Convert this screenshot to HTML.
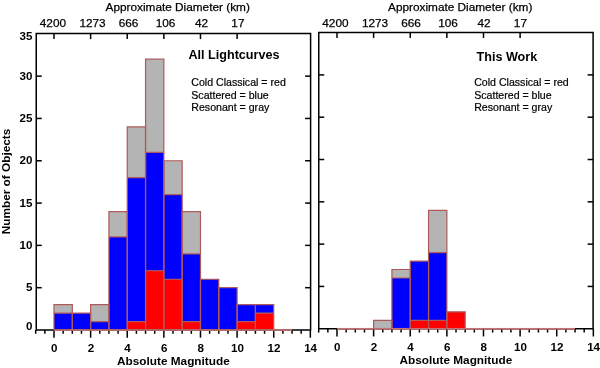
<!DOCTYPE html>
<html><head><meta charset="utf-8"><style>
html,body{margin:0;padding:0;background:#fff;}
svg{display:block;will-change:transform;}
text{font-family:"Liberation Sans",sans-serif;fill:#000;}
.tb{font-size:11.6px;font-weight:bold;}
.tn{font-size:11.8px;stroke:#000;stroke-width:0.25px;}
.ta{font-size:11.8px;font-weight:bold;}
.ti{font-size:12.6px;font-weight:bold;}
.lg{font-size:10.6px;stroke:#000;stroke-width:0.2px;}
</style></head><body>
<svg width="600" height="368" viewBox="0 0 600 368">
<rect width="600" height="368" fill="#fff"/>
<rect x="54.00" y="313.08" width="18.31" height="16.92" fill="#0000ff"/>
<rect x="54.00" y="304.61" width="18.31" height="8.46" fill="#b4b4b4"/>
<rect x="72.31" y="313.08" width="18.31" height="16.92" fill="#0000ff"/>
<rect x="90.62" y="321.54" width="18.31" height="8.46" fill="#0000ff"/>
<rect x="90.62" y="304.61" width="18.31" height="16.92" fill="#b4b4b4"/>
<rect x="108.93" y="236.92" width="18.31" height="93.08" fill="#0000ff"/>
<rect x="108.93" y="211.53" width="18.31" height="25.39" fill="#b4b4b4"/>
<rect x="127.24" y="321.54" width="18.31" height="8.46" fill="#ff0000"/>
<rect x="127.24" y="177.68" width="18.31" height="143.85" fill="#0000ff"/>
<rect x="127.24" y="126.91" width="18.31" height="50.77" fill="#b4b4b4"/>
<rect x="145.55" y="270.77" width="18.31" height="59.23" fill="#ff0000"/>
<rect x="145.55" y="152.30" width="18.31" height="118.47" fill="#0000ff"/>
<rect x="145.55" y="59.22" width="18.31" height="93.08" fill="#b4b4b4"/>
<rect x="163.86" y="279.23" width="18.31" height="50.77" fill="#ff0000"/>
<rect x="163.86" y="194.61" width="18.31" height="84.62" fill="#0000ff"/>
<rect x="163.86" y="160.76" width="18.31" height="33.85" fill="#b4b4b4"/>
<rect x="182.17" y="321.54" width="18.31" height="8.46" fill="#ff0000"/>
<rect x="182.17" y="253.84" width="18.31" height="67.70" fill="#0000ff"/>
<rect x="182.17" y="211.53" width="18.31" height="42.31" fill="#b4b4b4"/>
<rect x="200.48" y="279.23" width="18.31" height="50.77" fill="#0000ff"/>
<rect x="218.79" y="287.69" width="18.31" height="42.31" fill="#0000ff"/>
<rect x="237.10" y="321.54" width="18.31" height="8.46" fill="#ff0000"/>
<rect x="237.10" y="304.61" width="18.31" height="16.92" fill="#0000ff"/>
<rect x="255.41" y="313.08" width="18.31" height="16.92" fill="#ff0000"/>
<rect x="255.41" y="304.61" width="18.31" height="8.46" fill="#0000ff"/>
<path d="M36.25,33.6 H310.6 V330.0 H36.25 Z" fill="none" stroke="#000" stroke-width="1.5"/>
<line x1="35.69" y1="330.0" x2="35.69" y2="333.8" stroke="#000" stroke-width="1.5"/>
<line x1="44.84" y1="330.0" x2="44.84" y2="333.8" stroke="#000" stroke-width="1.5"/>
<line x1="54.00" y1="330.0" x2="54.00" y2="337.7" stroke="#000" stroke-width="1.5"/>
<line x1="63.16" y1="330.0" x2="63.16" y2="333.8" stroke="#000" stroke-width="1.5"/>
<line x1="72.31" y1="330.0" x2="72.31" y2="333.8" stroke="#000" stroke-width="1.5"/>
<line x1="81.47" y1="330.0" x2="81.47" y2="333.8" stroke="#000" stroke-width="1.5"/>
<line x1="90.62" y1="330.0" x2="90.62" y2="337.7" stroke="#000" stroke-width="1.5"/>
<line x1="99.78" y1="330.0" x2="99.78" y2="333.8" stroke="#000" stroke-width="1.5"/>
<line x1="108.93" y1="330.0" x2="108.93" y2="333.8" stroke="#000" stroke-width="1.5"/>
<line x1="118.08" y1="330.0" x2="118.08" y2="333.8" stroke="#000" stroke-width="1.5"/>
<line x1="127.24" y1="330.0" x2="127.24" y2="337.7" stroke="#000" stroke-width="1.5"/>
<line x1="136.39" y1="330.0" x2="136.39" y2="333.8" stroke="#000" stroke-width="1.5"/>
<line x1="145.55" y1="330.0" x2="145.55" y2="333.8" stroke="#000" stroke-width="1.5"/>
<line x1="154.70" y1="330.0" x2="154.70" y2="333.8" stroke="#000" stroke-width="1.5"/>
<line x1="163.86" y1="330.0" x2="163.86" y2="337.7" stroke="#000" stroke-width="1.5"/>
<line x1="173.01" y1="330.0" x2="173.01" y2="333.8" stroke="#000" stroke-width="1.5"/>
<line x1="182.17" y1="330.0" x2="182.17" y2="333.8" stroke="#000" stroke-width="1.5"/>
<line x1="191.32" y1="330.0" x2="191.32" y2="333.8" stroke="#000" stroke-width="1.5"/>
<line x1="200.48" y1="330.0" x2="200.48" y2="337.7" stroke="#000" stroke-width="1.5"/>
<line x1="209.63" y1="330.0" x2="209.63" y2="333.8" stroke="#000" stroke-width="1.5"/>
<line x1="218.79" y1="330.0" x2="218.79" y2="333.8" stroke="#000" stroke-width="1.5"/>
<line x1="227.94" y1="330.0" x2="227.94" y2="333.8" stroke="#000" stroke-width="1.5"/>
<line x1="237.10" y1="330.0" x2="237.10" y2="337.7" stroke="#000" stroke-width="1.5"/>
<line x1="246.25" y1="330.0" x2="246.25" y2="333.8" stroke="#000" stroke-width="1.5"/>
<line x1="255.41" y1="330.0" x2="255.41" y2="333.8" stroke="#000" stroke-width="1.5"/>
<line x1="264.56" y1="330.0" x2="264.56" y2="333.8" stroke="#000" stroke-width="1.5"/>
<line x1="273.72" y1="330.0" x2="273.72" y2="337.7" stroke="#000" stroke-width="1.5"/>
<line x1="282.88" y1="330.0" x2="282.88" y2="333.8" stroke="#000" stroke-width="1.5"/>
<line x1="292.03" y1="330.0" x2="292.03" y2="333.8" stroke="#000" stroke-width="1.5"/>
<line x1="301.18" y1="330.0" x2="301.18" y2="333.8" stroke="#000" stroke-width="1.5"/>
<line x1="310.34" y1="330.0" x2="310.34" y2="337.7" stroke="#000" stroke-width="1.5"/>
<line x1="54.00" y1="33.6" x2="54.00" y2="39.1" stroke="#000" stroke-width="1.5"/>
<line x1="90.62" y1="33.6" x2="90.62" y2="39.1" stroke="#000" stroke-width="1.5"/>
<line x1="127.24" y1="33.6" x2="127.24" y2="39.1" stroke="#000" stroke-width="1.5"/>
<line x1="163.86" y1="33.6" x2="163.86" y2="39.1" stroke="#000" stroke-width="1.5"/>
<line x1="200.48" y1="33.6" x2="200.48" y2="39.1" stroke="#000" stroke-width="1.5"/>
<line x1="237.10" y1="33.6" x2="237.10" y2="39.1" stroke="#000" stroke-width="1.5"/>
<line x1="36.25" y1="287.69" x2="41.75" y2="287.69" stroke="#000" stroke-width="1.5"/>
<line x1="310.6" y1="287.69" x2="305.1" y2="287.69" stroke="#000" stroke-width="1.5"/>
<line x1="36.25" y1="245.38" x2="41.75" y2="245.38" stroke="#000" stroke-width="1.5"/>
<line x1="310.6" y1="245.38" x2="305.1" y2="245.38" stroke="#000" stroke-width="1.5"/>
<line x1="36.25" y1="203.07" x2="41.75" y2="203.07" stroke="#000" stroke-width="1.5"/>
<line x1="310.6" y1="203.07" x2="305.1" y2="203.07" stroke="#000" stroke-width="1.5"/>
<line x1="36.25" y1="160.76" x2="41.75" y2="160.76" stroke="#000" stroke-width="1.5"/>
<line x1="310.6" y1="160.76" x2="305.1" y2="160.76" stroke="#000" stroke-width="1.5"/>
<line x1="36.25" y1="118.45" x2="41.75" y2="118.45" stroke="#000" stroke-width="1.5"/>
<line x1="310.6" y1="118.45" x2="305.1" y2="118.45" stroke="#000" stroke-width="1.5"/>
<line x1="36.25" y1="76.14" x2="41.75" y2="76.14" stroke="#000" stroke-width="1.5"/>
<line x1="310.6" y1="76.14" x2="305.1" y2="76.14" stroke="#000" stroke-width="1.5"/>
<path d="M54.00,330.00 V304.61 H72.31 V330.00 Z M54.00,313.08 H72.31" fill="none" stroke="#ae5a5a" stroke-width="1.2"/>
<path d="M54.00,330.00 H72.31" fill="none" stroke="#c27272" stroke-width="1.6"/>
<path d="M72.31,330.00 V313.08 H90.62 V330.00 Z" fill="none" stroke="#ae5a5a" stroke-width="1.2"/>
<path d="M72.31,330.00 H90.62" fill="none" stroke="#c27272" stroke-width="1.6"/>
<path d="M90.62,330.00 V304.61 H108.93 V330.00 Z M90.62,321.54 H108.93" fill="none" stroke="#ae5a5a" stroke-width="1.2"/>
<path d="M90.62,330.00 H108.93" fill="none" stroke="#c27272" stroke-width="1.6"/>
<path d="M108.93,330.00 V211.53 H127.24 V330.00 Z M108.93,236.92 H127.24" fill="none" stroke="#ae5a5a" stroke-width="1.2"/>
<path d="M108.93,330.00 H127.24" fill="none" stroke="#c27272" stroke-width="1.6"/>
<path d="M127.24,330.00 V126.91 H145.55 V330.00 Z M127.24,321.54 H145.55 M127.24,177.68 H145.55" fill="none" stroke="#ae5a5a" stroke-width="1.2"/>
<path d="M127.24,330.00 H145.55" fill="none" stroke="#c27272" stroke-width="1.6"/>
<path d="M145.55,330.00 V59.22 H163.86 V330.00 Z M145.55,270.77 H163.86 M145.55,152.30 H163.86" fill="none" stroke="#ae5a5a" stroke-width="1.2"/>
<path d="M145.55,330.00 H163.86" fill="none" stroke="#c27272" stroke-width="1.6"/>
<path d="M163.86,330.00 V160.76 H182.17 V330.00 Z M163.86,279.23 H182.17 M163.86,194.61 H182.17" fill="none" stroke="#ae5a5a" stroke-width="1.2"/>
<path d="M163.86,330.00 H182.17" fill="none" stroke="#c27272" stroke-width="1.6"/>
<path d="M182.17,330.00 V211.53 H200.48 V330.00 Z M182.17,321.54 H200.48 M182.17,253.84 H200.48" fill="none" stroke="#ae5a5a" stroke-width="1.2"/>
<path d="M182.17,330.00 H200.48" fill="none" stroke="#c27272" stroke-width="1.6"/>
<path d="M200.48,330.00 V279.23 H218.79 V330.00 Z" fill="none" stroke="#ae5a5a" stroke-width="1.2"/>
<path d="M200.48,330.00 H218.79" fill="none" stroke="#c27272" stroke-width="1.6"/>
<path d="M218.79,330.00 V287.69 H237.10 V330.00 Z" fill="none" stroke="#ae5a5a" stroke-width="1.2"/>
<path d="M218.79,330.00 H237.10" fill="none" stroke="#c27272" stroke-width="1.6"/>
<path d="M237.10,330.00 V304.61 H255.41 V330.00 Z M237.10,321.54 H255.41" fill="none" stroke="#ae5a5a" stroke-width="1.2"/>
<path d="M237.10,330.00 H255.41" fill="none" stroke="#c27272" stroke-width="1.6"/>
<path d="M255.41,330.00 V304.61 H273.72 V330.00 Z M255.41,313.08 H273.72" fill="none" stroke="#ae5a5a" stroke-width="1.2"/>
<path d="M255.41,330.00 H273.72" fill="none" stroke="#c27272" stroke-width="1.6"/>
<path d="M273.72,330.00 H292.03" fill="none" stroke="#ae5a5a" stroke-width="1.2"/>
<path d="M273.72,330.00 H292.03" fill="none" stroke="#c27272" stroke-width="1.6"/>
<text x="54.30" y="352.00" class="tb" text-anchor="middle">0</text>
<text x="90.92" y="352.00" class="tb" text-anchor="middle">2</text>
<text x="127.54" y="352.00" class="tb" text-anchor="middle">4</text>
<text x="164.16" y="352.00" class="tb" text-anchor="middle">6</text>
<text x="200.78" y="352.00" class="tb" text-anchor="middle">8</text>
<text x="237.40" y="352.00" class="tb" text-anchor="middle">10</text>
<text x="274.02" y="352.00" class="tb" text-anchor="middle">12</text>
<text x="310.64" y="352.00" class="tb" text-anchor="middle">14</text>
<text x="52.90" y="27.20" class="tn" text-anchor="middle">4200</text>
<text x="92.50" y="27.20" class="tn" text-anchor="middle">1273</text>
<text x="128.60" y="27.20" class="tn" text-anchor="middle">666</text>
<text x="165.60" y="27.20" class="tn" text-anchor="middle">106</text>
<text x="201.50" y="27.20" class="tn" text-anchor="middle">42</text>
<text x="237.90" y="27.20" class="tn" text-anchor="middle">17</text>
<text x="105.60" y="10.60" class="tn">Approximate Diameter (km)</text>
<text x="117.00" y="364.70" class="ta">Absolute Magnitude</text>
<text x="32.35" y="330.00" class="tb" text-anchor="end">0</text>
<text x="32.35" y="291.39" class="tb" text-anchor="end">5</text>
<text x="32.35" y="249.08" class="tb" text-anchor="end">10</text>
<text x="32.35" y="206.77" class="tb" text-anchor="end">15</text>
<text x="32.35" y="164.46" class="tb" text-anchor="end">20</text>
<text x="32.35" y="122.15" class="tb" text-anchor="end">25</text>
<text x="32.35" y="79.84" class="tb" text-anchor="end">30</text>
<text x="32.35" y="40.40" class="tb" text-anchor="end">35</text>
<rect x="373.62" y="320.29" width="18.31" height="8.46" fill="#b4b4b4"/>
<rect x="391.93" y="277.98" width="18.31" height="50.77" fill="#0000ff"/>
<rect x="391.93" y="269.52" width="18.31" height="8.46" fill="#b4b4b4"/>
<rect x="410.24" y="320.29" width="18.31" height="8.46" fill="#ff0000"/>
<rect x="410.24" y="261.05" width="18.31" height="59.23" fill="#0000ff"/>
<rect x="428.55" y="320.29" width="18.31" height="8.46" fill="#ff0000"/>
<rect x="428.55" y="252.59" width="18.31" height="67.70" fill="#0000ff"/>
<rect x="428.55" y="210.28" width="18.31" height="42.31" fill="#b4b4b4"/>
<rect x="446.86" y="311.83" width="18.31" height="16.92" fill="#ff0000"/>
<path d="M318.75,32.5 H593.1 V328.75 H318.75 Z" fill="none" stroke="#000" stroke-width="1.5"/>
<line x1="318.69" y1="328.75" x2="318.69" y2="332.55" stroke="#000" stroke-width="1.5"/>
<line x1="327.85" y1="328.75" x2="327.85" y2="332.55" stroke="#000" stroke-width="1.5"/>
<line x1="337.00" y1="328.75" x2="337.00" y2="336.45" stroke="#000" stroke-width="1.5"/>
<line x1="346.15" y1="328.75" x2="346.15" y2="332.55" stroke="#000" stroke-width="1.5"/>
<line x1="355.31" y1="328.75" x2="355.31" y2="332.55" stroke="#000" stroke-width="1.5"/>
<line x1="364.46" y1="328.75" x2="364.46" y2="332.55" stroke="#000" stroke-width="1.5"/>
<line x1="373.62" y1="328.75" x2="373.62" y2="336.45" stroke="#000" stroke-width="1.5"/>
<line x1="382.77" y1="328.75" x2="382.77" y2="332.55" stroke="#000" stroke-width="1.5"/>
<line x1="391.93" y1="328.75" x2="391.93" y2="332.55" stroke="#000" stroke-width="1.5"/>
<line x1="401.08" y1="328.75" x2="401.08" y2="332.55" stroke="#000" stroke-width="1.5"/>
<line x1="410.24" y1="328.75" x2="410.24" y2="336.45" stroke="#000" stroke-width="1.5"/>
<line x1="419.39" y1="328.75" x2="419.39" y2="332.55" stroke="#000" stroke-width="1.5"/>
<line x1="428.55" y1="328.75" x2="428.55" y2="332.55" stroke="#000" stroke-width="1.5"/>
<line x1="437.70" y1="328.75" x2="437.70" y2="332.55" stroke="#000" stroke-width="1.5"/>
<line x1="446.86" y1="328.75" x2="446.86" y2="336.45" stroke="#000" stroke-width="1.5"/>
<line x1="456.01" y1="328.75" x2="456.01" y2="332.55" stroke="#000" stroke-width="1.5"/>
<line x1="465.17" y1="328.75" x2="465.17" y2="332.55" stroke="#000" stroke-width="1.5"/>
<line x1="474.32" y1="328.75" x2="474.32" y2="332.55" stroke="#000" stroke-width="1.5"/>
<line x1="483.48" y1="328.75" x2="483.48" y2="336.45" stroke="#000" stroke-width="1.5"/>
<line x1="492.63" y1="328.75" x2="492.63" y2="332.55" stroke="#000" stroke-width="1.5"/>
<line x1="501.79" y1="328.75" x2="501.79" y2="332.55" stroke="#000" stroke-width="1.5"/>
<line x1="510.94" y1="328.75" x2="510.94" y2="332.55" stroke="#000" stroke-width="1.5"/>
<line x1="520.10" y1="328.75" x2="520.10" y2="336.45" stroke="#000" stroke-width="1.5"/>
<line x1="529.25" y1="328.75" x2="529.25" y2="332.55" stroke="#000" stroke-width="1.5"/>
<line x1="538.41" y1="328.75" x2="538.41" y2="332.55" stroke="#000" stroke-width="1.5"/>
<line x1="547.57" y1="328.75" x2="547.57" y2="332.55" stroke="#000" stroke-width="1.5"/>
<line x1="556.72" y1="328.75" x2="556.72" y2="336.45" stroke="#000" stroke-width="1.5"/>
<line x1="565.88" y1="328.75" x2="565.88" y2="332.55" stroke="#000" stroke-width="1.5"/>
<line x1="575.03" y1="328.75" x2="575.03" y2="332.55" stroke="#000" stroke-width="1.5"/>
<line x1="584.18" y1="328.75" x2="584.18" y2="332.55" stroke="#000" stroke-width="1.5"/>
<line x1="593.34" y1="328.75" x2="593.34" y2="336.45" stroke="#000" stroke-width="1.5"/>
<line x1="337.00" y1="32.5" x2="337.00" y2="38.0" stroke="#000" stroke-width="1.5"/>
<line x1="373.62" y1="32.5" x2="373.62" y2="38.0" stroke="#000" stroke-width="1.5"/>
<line x1="410.24" y1="32.5" x2="410.24" y2="38.0" stroke="#000" stroke-width="1.5"/>
<line x1="446.86" y1="32.5" x2="446.86" y2="38.0" stroke="#000" stroke-width="1.5"/>
<line x1="483.48" y1="32.5" x2="483.48" y2="38.0" stroke="#000" stroke-width="1.5"/>
<line x1="520.10" y1="32.5" x2="520.10" y2="38.0" stroke="#000" stroke-width="1.5"/>
<line x1="318.75" y1="286.44" x2="324.25" y2="286.44" stroke="#000" stroke-width="1.5"/>
<line x1="593.1" y1="286.44" x2="587.6" y2="286.44" stroke="#000" stroke-width="1.5"/>
<line x1="318.75" y1="244.13" x2="324.25" y2="244.13" stroke="#000" stroke-width="1.5"/>
<line x1="593.1" y1="244.13" x2="587.6" y2="244.13" stroke="#000" stroke-width="1.5"/>
<line x1="318.75" y1="201.82" x2="324.25" y2="201.82" stroke="#000" stroke-width="1.5"/>
<line x1="593.1" y1="201.82" x2="587.6" y2="201.82" stroke="#000" stroke-width="1.5"/>
<line x1="318.75" y1="159.51" x2="324.25" y2="159.51" stroke="#000" stroke-width="1.5"/>
<line x1="593.1" y1="159.51" x2="587.6" y2="159.51" stroke="#000" stroke-width="1.5"/>
<line x1="318.75" y1="117.20" x2="324.25" y2="117.20" stroke="#000" stroke-width="1.5"/>
<line x1="593.1" y1="117.20" x2="587.6" y2="117.20" stroke="#000" stroke-width="1.5"/>
<line x1="318.75" y1="74.89" x2="324.25" y2="74.89" stroke="#000" stroke-width="1.5"/>
<line x1="593.1" y1="74.89" x2="587.6" y2="74.89" stroke="#000" stroke-width="1.5"/>
<path d="M337.00,328.75 H355.31" fill="none" stroke="#ae5a5a" stroke-width="1.2"/>
<path d="M337.00,328.75 H355.31" fill="none" stroke="#c27272" stroke-width="1.6"/>
<path d="M355.31,328.75 H373.62" fill="none" stroke="#ae5a5a" stroke-width="1.2"/>
<path d="M355.31,328.75 H373.62" fill="none" stroke="#c27272" stroke-width="1.6"/>
<path d="M373.62,328.75 V320.29 H391.93 V328.75 Z" fill="none" stroke="#ae5a5a" stroke-width="1.2"/>
<path d="M373.62,328.75 H391.93" fill="none" stroke="#c27272" stroke-width="1.6"/>
<path d="M391.93,328.75 V269.52 H410.24 V328.75 Z M391.93,277.98 H410.24" fill="none" stroke="#ae5a5a" stroke-width="1.2"/>
<path d="M391.93,328.75 H410.24" fill="none" stroke="#c27272" stroke-width="1.6"/>
<path d="M410.24,328.75 V261.05 H428.55 V328.75 Z M410.24,320.29 H428.55" fill="none" stroke="#ae5a5a" stroke-width="1.2"/>
<path d="M410.24,328.75 H428.55" fill="none" stroke="#c27272" stroke-width="1.6"/>
<path d="M428.55,328.75 V210.28 H446.86 V328.75 Z M428.55,320.29 H446.86 M428.55,252.59 H446.86" fill="none" stroke="#ae5a5a" stroke-width="1.2"/>
<path d="M428.55,328.75 H446.86" fill="none" stroke="#c27272" stroke-width="1.6"/>
<path d="M446.86,328.75 V311.83 H465.17 V328.75 Z" fill="none" stroke="#ae5a5a" stroke-width="1.2"/>
<path d="M446.86,328.75 H465.17" fill="none" stroke="#c27272" stroke-width="1.6"/>
<path d="M465.17,328.75 H483.48" fill="none" stroke="#ae5a5a" stroke-width="1.2"/>
<path d="M465.17,328.75 H483.48" fill="none" stroke="#c27272" stroke-width="1.6"/>
<path d="M483.48,328.75 H501.79" fill="none" stroke="#ae5a5a" stroke-width="1.2"/>
<path d="M483.48,328.75 H501.79" fill="none" stroke="#c27272" stroke-width="1.6"/>
<path d="M501.79,328.75 H520.10" fill="none" stroke="#ae5a5a" stroke-width="1.2"/>
<path d="M501.79,328.75 H520.10" fill="none" stroke="#c27272" stroke-width="1.6"/>
<path d="M520.10,328.75 H538.41" fill="none" stroke="#ae5a5a" stroke-width="1.2"/>
<path d="M520.10,328.75 H538.41" fill="none" stroke="#c27272" stroke-width="1.6"/>
<path d="M538.41,328.75 H556.72" fill="none" stroke="#ae5a5a" stroke-width="1.2"/>
<path d="M538.41,328.75 H556.72" fill="none" stroke="#c27272" stroke-width="1.6"/>
<path d="M556.72,328.75 H575.03" fill="none" stroke="#ae5a5a" stroke-width="1.2"/>
<path d="M556.72,328.75 H575.03" fill="none" stroke="#c27272" stroke-width="1.6"/>
<text x="337.30" y="350.75" class="tb" text-anchor="middle">0</text>
<text x="373.92" y="350.75" class="tb" text-anchor="middle">2</text>
<text x="410.54" y="350.75" class="tb" text-anchor="middle">4</text>
<text x="447.16" y="350.75" class="tb" text-anchor="middle">6</text>
<text x="483.78" y="350.75" class="tb" text-anchor="middle">8</text>
<text x="520.40" y="350.75" class="tb" text-anchor="middle">10</text>
<text x="557.02" y="350.75" class="tb" text-anchor="middle">12</text>
<text x="593.64" y="350.75" class="tb" text-anchor="middle">14</text>
<text x="335.40" y="27.20" class="tn" text-anchor="middle">4200</text>
<text x="375.00" y="27.20" class="tn" text-anchor="middle">1273</text>
<text x="411.10" y="27.20" class="tn" text-anchor="middle">666</text>
<text x="448.10" y="27.20" class="tn" text-anchor="middle">106</text>
<text x="484.00" y="27.20" class="tn" text-anchor="middle">42</text>
<text x="520.40" y="27.20" class="tn" text-anchor="middle">17</text>
<text x="388.10" y="10.60" class="tn">Approximate Diameter (km)</text>
<text x="399.50" y="364.05" class="ta">Absolute Magnitude</text>
<text x="188.5" y="58.75" class="ti">All Lightcurves</text>
<text x="476.5" y="60.5" class="ti">This Work</text>
<text x="191.3" y="85.80" class="lg">Cold Classical = red</text>
<text x="191.3" y="98.50" class="lg">Scattered = blue</text>
<text x="191.3" y="111.20" class="lg">Resonant = gray</text>
<text x="474.2" y="85.80" class="lg">Cold Classical = red</text>
<text x="474.2" y="98.50" class="lg">Scattered = blue</text>
<text x="474.2" y="111.20" class="lg">Resonant = gray</text>
<text transform="translate(10.2,181.5) rotate(-90)" class="ta" text-anchor="middle">Number of Objects</text>
</svg>
</body></html>
